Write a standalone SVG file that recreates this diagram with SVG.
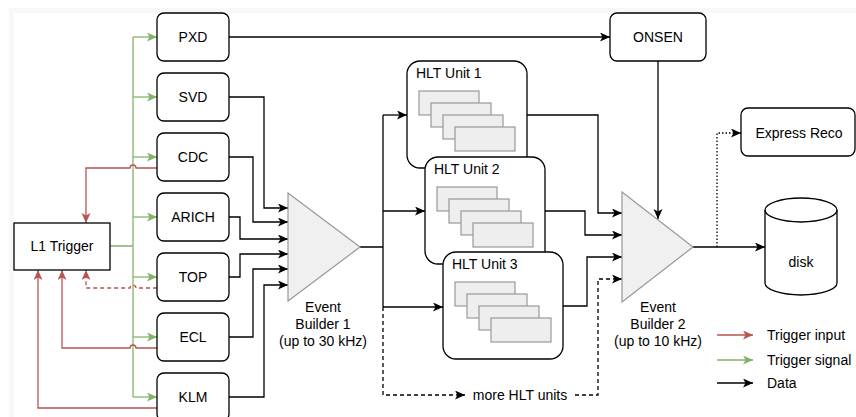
<svg xmlns="http://www.w3.org/2000/svg" width="856" height="417" viewBox="0 0 856 417">
<style>
text{font-family:"Liberation Sans",Arial,Helvetica,sans-serif;font-size:14px;fill:#000}
.c{text-anchor:middle}
.box{fill:#fff;stroke:#000;stroke-width:1.3}
.inner{fill:#eeeeee;stroke:#999;stroke-width:1.2}
.tri{fill:#f0f0f0;stroke:#999;stroke-width:1.2}
.k{fill:none;stroke:#000;stroke-width:1.3}
.g{fill:none;stroke:#82b366;stroke-width:1.3}
.r{fill:none;stroke:#b85450;stroke-width:1.3}
.dash{stroke-dasharray:4 3}
.dot{stroke-dasharray:1.5 2}
</style>
<defs>
<marker id="ak" markerUnits="userSpaceOnUse" markerWidth="11" markerHeight="10" refX="10" refY="4.5" orient="auto"><path d="M0,0 L10,4.5 L0,9 L2.5,4.5 Z" fill="#000"/></marker>
<marker id="ag" markerUnits="userSpaceOnUse" markerWidth="11" markerHeight="10" refX="10" refY="4.5" orient="auto"><path d="M0,0 L10,4.5 L0,9 L2.5,4.5 Z" fill="#82b366"/></marker>
<marker id="ar" markerUnits="userSpaceOnUse" markerWidth="11" markerHeight="10" refX="10" refY="4.5" orient="auto"><path d="M0,0 L10,4.5 L0,9 L2.5,4.5 Z" fill="#b85450"/></marker>
</defs>
<rect x="0" y="0" width="856" height="417" fill="#fff"/>
<rect x="11.5" y="10.5" width="900" height="500" fill="none" stroke="#f8f8f8" stroke-width="5"/>

<g id="connectors">
  <!-- trigger signal (green) -->
  <path class="g" d="M110,246 H133 M133,37 V397"/>
  <path class="g" marker-end="url(#ag)" d="M133,37 H157"/>
  <path class="g" marker-end="url(#ag)" d="M133,97 H157"/>
  <path class="g" marker-end="url(#ag)" d="M133,157 H157"/>
  <path class="g" marker-end="url(#ag)" d="M133,217 H157"/>
  <path class="g" marker-end="url(#ag)" d="M133,277 H157"/>
  <path class="g" marker-end="url(#ag)" d="M133,337 H157"/>
  <path class="g" marker-end="url(#ag)" d="M133,397 H157"/>
  <!-- trigger input (red) -->
  <path class="r" marker-end="url(#ar)" d="M157,168 H136 A3,3 0 0 0 130,168 H86 V223"/>
  <path class="r dash" marker-end="url(#ar)" d="M157,288 H136 A3,3 0 0 0 130,288 H86 V270"/>
  <path class="r" marker-end="url(#ar)" d="M157,348 H136 A3,3 0 0 0 130,348 H62 V270"/>
  <path class="r" marker-end="url(#ar)" d="M157,408 H38 V270"/>
  <!-- data (black) -->
  <path class="k" marker-end="url(#ak)" d="M229,37 H610"/>
  <path class="k" marker-end="url(#ak)" d="M229,97 H264 V208 H288"/>
  <path class="k" marker-end="url(#ak)" d="M229,157 H253 V222 H288"/>
  <path class="k" marker-end="url(#ak)" d="M229,217 H240 V239 H288"/>
  <path class="k" marker-end="url(#ak)" d="M229,277 H240 V254 H288"/>
  <path class="k" marker-end="url(#ak)" d="M229,337 H253 V269 H288"/>
  <path class="k" marker-end="url(#ak)" d="M229,397 H264 V285 H288"/>
  <path class="k" d="M360,247 H383 M383,115 V307"/>
  <path class="k" marker-end="url(#ak)" d="M383,115 H407"/>
  <path class="k" marker-end="url(#ak)" d="M383,211 H425"/>
  <path class="k" marker-end="url(#ak)" d="M383,307 H443"/>
  <path class="k dash" marker-end="url(#ak)" d="M383,307 V395 H465"/>
  <path class="k dash" marker-end="url(#ak)" d="M575,395 H598 V279 H622"/>
  <path class="k" marker-end="url(#ak)" d="M527,115 H598 V213 H622"/>
  <path class="k" marker-end="url(#ak)" d="M545,211 H585 V235 H622"/>
  <path class="k" marker-end="url(#ak)" d="M563,306 H587 V257 H622"/>
  <path class="k" marker-end="url(#ak)" d="M658,61 V219"/>
  <path class="k" marker-end="url(#ak)" d="M693,247 H765"/>
  <path class="k dot" marker-end="url(#ak)" d="M717,247 V133 H741"/>
  <text x="520" y="400" class="c">more HLT units</text>
</g>

<g id="l1trigger"><rect class="box" x="14" y="223" width="96" height="47"/><text x="62" y="251" class="c">L1 Trigger</text></g>
<g id="pxd"><rect class="box" x="157" y="13" width="72" height="48" rx="7"/><text x="193" y="42" class="c">PXD</text></g>
<g id="svd"><rect class="box" x="157" y="73" width="72" height="48" rx="7"/><text x="193" y="102" class="c">SVD</text></g>
<g id="cdc"><rect class="box" x="157" y="133" width="72" height="48" rx="7"/><text x="193" y="162" class="c">CDC</text></g>
<g id="arich"><rect class="box" x="157" y="193" width="72" height="48" rx="7"/><text x="193" y="222" class="c">ARICH</text></g>
<g id="top"><rect class="box" x="157" y="253" width="72" height="48" rx="7"/><text x="193" y="282" class="c">TOP</text></g>
<g id="ecl"><rect class="box" x="157" y="313" width="72" height="48" rx="7"/><text x="193" y="342" class="c">ECL</text></g>
<g id="klm"><rect class="box" x="157" y="373" width="72" height="48" rx="7"/><text x="193" y="402" class="c">KLM</text></g>

<g id="eb1">
  <polygon class="tri" points="288,193 360,247 288,301"/>
  <text x="323" y="312" class="c">Event</text>
  <text x="323" y="329" class="c">Builder 1</text>
  <text x="323" y="346" class="c">(up to 30 kHz)</text>
</g>

<g id="hlt1">
  <rect class="box" x="407" y="61" width="120" height="107" rx="13"/>
  <text x="416" y="78">HLT Unit 1</text>
  <rect class="inner" x="419" y="91" width="60" height="24"/>
  <rect class="inner" x="431" y="103" width="60" height="24"/>
  <rect class="inner" x="443" y="115" width="60" height="24"/>
  <rect class="inner" x="455" y="127" width="60" height="24"/>
</g>
<g id="hlt2">
  <rect class="box" x="425" y="157" width="120" height="107" rx="13"/>
  <text x="434" y="174">HLT Unit 2</text>
  <rect class="inner" x="437" y="187" width="60" height="24"/>
  <rect class="inner" x="449" y="199" width="60" height="24"/>
  <rect class="inner" x="461" y="211" width="60" height="24"/>
  <rect class="inner" x="473" y="223" width="60" height="24"/>
</g>
<g id="hlt3">
  <rect class="box" x="443" y="252" width="120" height="107" rx="13"/>
  <text x="452" y="269">HLT Unit 3</text>
  <rect class="inner" x="455" y="282" width="60" height="24"/>
  <rect class="inner" x="467" y="294" width="60" height="24"/>
  <rect class="inner" x="479" y="306" width="60" height="24"/>
  <rect class="inner" x="491" y="318" width="60" height="24"/>
</g>

<g id="onsen"><rect class="box" x="610" y="13" width="96" height="48" rx="7"/><text x="658" y="42" class="c">ONSEN</text></g>

<g id="eb2">
  <polygon class="tri" points="622,192 693,247 622,302"/>
  <text x="658" y="312" class="c">Event</text>
  <text x="658" y="329" class="c">Builder 2</text>
  <text x="658" y="346" class="c">(up to 10 kHz)</text>
</g>

<g id="expressreco"><rect class="box" x="741" y="108" width="114" height="48" rx="7"/><text x="799" y="138" class="c">Express Reco</text></g>

<g id="disk">
  <path class="box" d="M765,210 A36,12 0 0 1 837,210 V283 A36,12 0 0 1 765,283 Z"/>
  <path class="k" d="M765,210 A36,12 0 0 0 837,210"/>
  <text x="801" y="267" class="c">disk</text>
</g>

<g id="legend">
  <path class="r" marker-end="url(#ar)" d="M717,335 H753"/>
  <text x="767" y="340">Trigger input</text>
  <path class="g" marker-end="url(#ag)" d="M717,360 H753"/>
  <text x="767" y="365">Trigger signal</text>
  <path class="k" marker-end="url(#ak)" d="M717,383 H753"/>
  <text x="767" y="388">Data</text>
</g>
</svg>
